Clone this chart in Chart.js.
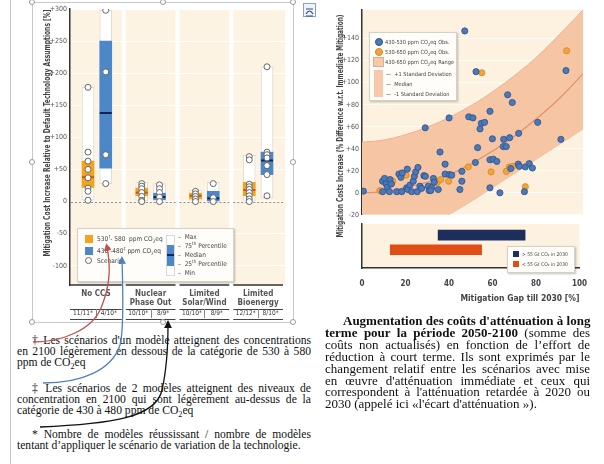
<!DOCTYPE html>
<html>
<head>
<meta charset="utf-8">
<script src="https://cdn.jsdelivr.net/npm/chart.js@4.4.1/dist/chart.umd.min.js"></script>
<style>
  html, body { margin: 0; padding: 0; background: #fff; }
  #page { position: relative; width: 604px; height: 464px; overflow: hidden; font-family: "Liberation Serif", "Times New Roman", serif; color: #111; }
  .abs { position: absolute; }
  .sans { font-family: "DejaVu Sans Condensed", "Liberation Sans Narrow", "Liberation Sans", sans-serif; color: #444; }
  .legend { background: #fffdf9; border: 1px solid #d6d0c6; box-shadow: 1px 1px 2px rgba(0,0,0,0.25); }
  .legend .t { position: absolute; white-space: nowrap; line-height: 8px; }
  .legend sub, .legend sup { font-size: 70%; line-height: 0; }
  .handle { position: absolute; width: 4px; height: 4px; border: 1px solid #9a9a9a; border-radius: 50%; background: #fff; }
  .col .ln { text-align: justify; text-align-last: justify; white-space: nowrap; }
  .col .last { text-align: left; text-align-last: left; white-space: nowrap; }
  .col sub { font-size: 70%; line-height: 0; }
</style>
</head>
<body>
<div id="page">
  <!-- page margin + frame of the left picture -->
  <div class="abs" style="left:10px;top:0;width:1px;height:464px;background:#c4c4c4"></div>
  <div class="abs" style="left:32px;top:2px;width:260px;height:319px;border:1px solid #c8c8c8"></div>

  <div class="abs" style="left:32px;top:0;width:261px;height:322px"><canvas id="leftChart" width="261" height="322"></canvas></div>
  <div class="abs" style="left:328px;top:0;width:262px;height:222px"><canvas id="scatterChart" width="262" height="222"></canvas></div>
  <div class="abs" style="left:328px;top:222px;width:262px;height:84px"><canvas id="gapChart" width="262" height="84"></canvas></div>

  <span class="handle" style="left:29px;top:-1px"></span>
  <span class="handle" style="left:160px;top:-1px"></span>
  <span class="handle" style="left:290px;top:-1px"></span>
  <span class="handle" style="left:29px;top:159px"></span>
  <span class="handle" style="left:290px;top:159px"></span>
  <span class="handle" style="left:29px;top:319px"></span>
  <span class="handle" style="left:160px;top:319px"></span>
  <span class="handle" style="left:290px;top:319px"></span>

  <!-- layout icon -->
  <div class="abs" style="left:303px;top:3px;width:11px;height:12px;border:1px solid #8ea3bb;background:#eef3f9">
    <svg width="11" height="12"><path d="M2 8 Q5.5 2 9 8" fill="none" stroke="#34557d" stroke-width="1.2"/><line x1="2" y1="10" x2="9" y2="10" stroke="#34557d"/><line x1="2" y1="3" x2="9" y2="3" stroke="#34557d"/></svg>
  </div>

  <!-- rotated axis titles -->
  <svg class="abs" style="left:0;top:0" width="604" height="320">
    <text transform="translate(50,133) rotate(-90)" text-anchor="middle" textLength="247" lengthAdjust="spacingAndGlyphs"
      font-family="DejaVu Sans Condensed, Liberation Sans Narrow, sans-serif" font-weight="bold" font-size="8" fill="#444">Mitigation Cost Increase Relative to Default Technology Assumptions [%]</text>
    <text transform="translate(343,126) rotate(-90)" text-anchor="middle" textLength="223" lengthAdjust="spacingAndGlyphs"
      font-family="DejaVu Sans Condensed, Liberation Sans Narrow, sans-serif" font-weight="bold" font-size="8" fill="#444">Mitigation Costs Increase (% Difference w.r.t. Immediate Mitigation)</text>
  </svg>

  <!-- left legend -->
  <div class="abs legend sans" style="left:77px;top:228px;width:155px;height:52px;font-size:6.5px">
    <div class="abs" style="left:7px;top:6px;width:8px;height:8px;background:#f5a31c"></div>
    <div class="t" style="left:19px;top:6px">530<sup>†</sup>- 580 &nbsp;ppm CO<sub>2</sub>eq</div>
    <div class="abs" style="left:7px;top:18px;width:8px;height:8px;background:#4c87c9"></div>
    <div class="t" style="left:19px;top:18px">430<sup>‡</sup>-480<sup>‡</sup> ppm CO<sub>2</sub>eq</div>
    <div class="abs" style="left:7px;top:28px;width:5px;height:5px;border:1px solid #666;border-radius:50%;background:#fff"></div>
    <div class="t" style="left:19px;top:28px">Scenario</div>
    <div class="abs" style="left:88px;top:6px;width:7px;height:39px;border:1px solid #d8d8d8;background:#fff"></div>
    <div class="abs" style="left:89px;top:16px;width:7px;height:21px;background:#4c87c9"></div>
    <div class="abs" style="left:89px;top:25px;width:7px;height:2px;background:#0f2452"></div>
    <div class="t" style="left:100px;top:4px">–&nbsp; Max</div>
    <div class="t" style="left:100px;top:13px">–&nbsp; 75<sup>th</sup> Percentile</div>
    <div class="t" style="left:100px;top:22px">–&nbsp; Median</div>
    <div class="t" style="left:100px;top:31px">–&nbsp; 25<sup>th</sup> Percentile</div>
    <div class="t" style="left:100px;top:40px">–&nbsp; Min</div>
  </div>

  <!-- right legend -->
  <div class="abs legend sans" style="left:369px;top:32px;width:86px;height:67px;font-size:5.6px">
    <div class="abs" style="left:5px;top:5px;width:6px;height:6px;border-radius:50%;background:#4a78b9;border:0.5px solid #2d5288"></div>
    <div class="t" style="left:15px;top:5px">430-530 ppm CO<sub>2</sub>eq Obs.</div>
    <div class="abs" style="left:5px;top:15px;width:6px;height:6px;border-radius:50%;background:#f2a33a;border:0.5px solid #d4861f"></div>
    <div class="t" style="left:15px;top:15px">530-650 ppm CO<sub>2</sub>eq Obs.</div>
    <div class="abs" style="left:3px;top:24px;width:9px;height:8px;background:#f7c9aa;border:1px solid #eaa888"></div>
    <div class="t" style="left:15px;top:25px">430-650 ppm CO<sub>2</sub>eq Range</div>
    <div class="abs" style="left:4px;top:37px;width:9px;height:27px;background:#f7c9aa"></div>
    <div class="t" style="left:16px;top:37px">—&nbsp; +1 Standard Deviation</div>
    <div class="t" style="left:16px;top:47px">—&nbsp; Median</div>
    <div class="t" style="left:16px;top:57px">—&nbsp; -1 Standard Deviation</div>
  </div>

  <!-- gap legend -->
  <div class="abs legend sans" style="left:507px;top:246px;width:66px;height:25px;font-size:5px">
    <div class="abs" style="left:5px;top:4px;width:6px;height:6px;background:#1d2d5c"></div>
    <div class="t" id="gapLab0" style="left:14px;top:3px"></div>
    <div class="abs" style="left:5px;top:14px;width:6px;height:6px;background:#e04e16"></div>
    <div class="t" id="gapLab1" style="left:14px;top:13px"></div>
  </div>

  <!-- notes, left column -->
  <div class="abs col" style="left:17px;top:335px;width:294px;font-size:11.6px;line-height:11px">
    <div class="ln" style="padding-left:15px">† Les scénarios d'un modèle atteignent des concentrations</div>
    <div class="ln">en 2100 légèrement en dessous de la catégorie de 530 à 580</div>
    <div class="last">ppm de CO<sub>2</sub>eq</div>
    <div style="height:15px"></div>
    <div class="ln" style="padding-left:15px">‡ Les scénarios de 2 modèles atteignent des niveaux de</div>
    <div class="ln">concentration en 2100 qui sont légèrement au-dessus de la</div>
    <div class="last">catégorie de 430 à 480 ppm de CO<sub>2</sub>eq</div>
    <div style="height:13px"></div>
    <div class="ln" style="padding-left:15px">* Nombre de modèles réussissant / nombre de modèles</div>
    <div class="last">tentant d’appliquer le scénario de variation de la technologie.</div>
  </div>

  <!-- caption, right column -->
  <div class="abs col" style="left:325px;top:315px;width:265px;font-size:13px;line-height:11.9px">
    <div class="ln" style="padding-left:18px"><b>Augmentation des coûts d'atténuation à long</b></div>
    <div class="ln"><b>terme pour la période 2050-2100</b> (somme des</div>
    <div class="ln">coûts non actualisés) en fonction de l’effort de</div>
    <div class="ln">réduction à court terme. Ils sont exprimés par le</div>
    <div class="ln">changement relatif entre les scénarios avec mise</div>
    <div class="ln">en œuvre d'atténuation immédiate et ceux qui</div>
    <div class="ln">correspondent à l'atténuation retardée à 2020 ou</div>
    <div class="last">2030 (appelé ici «l'écart d'atténuation »).</div>
  </div>

  <!-- hand-drawn pointers -->
  <svg class="abs" style="left:0;top:0;pointer-events:none" width="604" height="464">
    <defs>
      <marker id="ar" markerWidth="6" markerHeight="6" refX="3" refY="3" orient="auto"><path d="M0,0 L6,3 L0,6 z" fill="#c0504d"/></marker>
      <marker id="ab" markerWidth="6" markerHeight="6" refX="3" refY="3" orient="auto"><path d="M0,0 L6,3 L0,6 z" fill="#4f81bd"/></marker>
      <marker id="ak" markerWidth="6" markerHeight="6" refX="3" refY="3" orient="auto"><path d="M0,0 L6,3 L0,6 z" fill="#111"/></marker>
    </defs>
    <path d="M33 342 C 62 342, 92 330, 101 308 S 111 268, 107 247" fill="none" stroke="#c0504d" stroke-width="1.3" marker-end="url(#ar)"/>
    <path d="M43 383 C 82 383, 112 370, 120 345 C 124 330, 123 290, 122 260" fill="none" stroke="#4f81bd" stroke-width="1.3" marker-end="url(#ab)"/>
    <path d="M40 427 C 110 424, 156 418, 162 390 C 167 368, 168 342, 168 324" fill="none" stroke="#111" stroke-width="1.3" marker-end="url(#ak)"/>
  </svg>
</div>

<script>
// ---- left panel: cost increase by technology variation ----
const GROUP_LINES = [['No CCS'], ['Nuclear', 'Phase Out'], ['Limited', 'Solar/Wind'], ['Limited', 'Bioenergy']];
const MODELS_HIGH = ['11/11*', '10/10*', '10/10*', '12/12*'];   // 530-580 ppm
const MODELS_LOW = ['4/10*', '8/9*', '8/9*', '8/10*'];          // 430-480 ppm

const HIGH_MIN = [2, 0, 0, 0];
const HIGH_Q1 = [22, 9, 4, 9];
const HIGH_MED = [38, 14, 9, 18];
const HIGH_Q3 = [63, 21, 13, 30];
const HIGH_MAX = [178, 30, 18, 72];
const HIGH_SCEN = [
  [178, 77, 63, 50, 37, 21, 16, 2],
  [28, 24, 20, 14, 8, 2, 0],
  [16, 12, 8, 4, 0],
  [70, 65, 27, 23, 19, 14, 9, 4, 0]
];

const LOW_MIN = [28, 0, 0, 6];
const LOW_Q1 = [52, 3, 1, 42];
const LOW_MED = [138, 7, 5, 64];
const LOW_Q3 = [250, 13, 16, 77];
const LOW_MAX = [298, 28, 30, 210];
const LOW_SCEN = [
  [298, 202, 73, 28],
  [26, 20, 14, 7, 0],
  [28, 6, 0],
  [210, 77, 73, 68, 56, 42, 9]
];

// ---- right panel: cost increase vs mitigation gap ----
const BLUE_GAP = [46.5, 51.6, 92.3, 65.9, 68, 57.9, 28.6, 39.4, 48.3, 50.2, 54, 55.5, 53.4, 79.5, 70.9, 59, 64.1, 66.8, 90, 63.9, 65.3, 52.3, 35.3,
  0.6, 9.3, 10.2, 10.9, 11.5, 9.3, 12.4, 12.7, 13.3, 16.7, 17.6, 18.2, 15.7, 18, 20.2, 20.7, 20.5, 21.7, 22.5, 23.2, 23.7, 24.3, 25.3, 25, 26.2, 27,
  28, 28.7, 30, 30.4, 31.5, 31.1, 32.3, 32.7, 34.5, 37.6, 37.6, 39.5, 40.6, 44.3, 45.2, 45.2, 51.3, 57.9, 59.4, 61, 57.9, 62.4, 70.7, 71.2, 73.9,
  75.7, 77.1, 73.5, 67.3];
const BLUE_COST = [147, 110, 111, 89, 82, 74, 59, 68, 69, 68, 63, 64, 58, 64, 54, 49, 48.5, 50, 48.5, 42, 42, 41, 37,
  1.5, 10.5, 13, 8, 5, 1, 1, 12, 8, 17, 14, 18, 1, 1, 4.5, 3, 21.5, 7, 1, 10.5, 15, 19, 23, 1, 6, 4,
  15.5, 15, 6, 2, 4.5, 2, 13, 9.5, 3, 26, 17, 16.5, 16, 3, 19.5, 10.5, 27.5, 30, 30.5, 28.5, 4.5, 0, 26, 24, 23.5,
  26.5, 22.5, 1, 22];
const ORANGE_GAP = [54.2, 92.6, 8.1, 13.9, 19.9, 32.6, 34.1, 35.6, 39.2, 48.1, 58.4, 65.3, 66.7, 68.2, 73.9];
const ORANGE_COST = [109, 129, 2, 10.5, 16, 9.5, 9.5, 12, 10.5, 23.5, 19, 19.5, 23.5, 24, 5.5];

const BAND_GAP = [0, 10, 20, 30, 40, 50, 60, 70, 80, 90, 100];
const BAND_UPPER = [46, 48, 53, 60, 69, 80, 93, 108, 125, 145, 166];
const BAND_MEDIAN = [0, 1, 5, 10, 17, 27, 39, 53, 69, 87, 108];
const BAND_LOWER = [-65, -54, -42, -30, -19, -7, 6, 19, 32, 45, 58];

// ---- emission ranges by mitigation gap ----
const GAP_LABELS = ['> 55 Gt CO₂ in 2030', '< 55 Gt CO₂ in 2030'];
const GAP_RANGES = [[35, 75], [13, 55]];

const CHART_FONT = '"DejaVu Sans Condensed", "Liberation Sans Narrow", sans-serif';
Chart.defaults.font.family = CHART_FONT;
Chart.defaults.color = '#555';
Chart.defaults.animation = false;
Chart.defaults.plugins.legend.display = false;
Chart.defaults.plugins.tooltip.enabled = false;

const cream = {
  id: 'cream',
  beforeDraw(chart, args, opts) {
    const a = chart.chartArea, ctx = chart.ctx;
    ctx.save();
    ctx.fillStyle = opts.color || '#fcf3e3';
    ctx.fillRect(a.left, a.top, a.right - a.left, a.bottom - a.top);
    ctx.restore();
  }
};

const xPos = (g, s) => g + 0.5 + (s === 0 ? -0.165 : 0.165);
const boxes = (lo, hi, s) => lo.map((v, g) => ({ x: xPos(g, s), y: [v, hi[g]] }));
const marks = (vals, s) => vals.map((v, g) => ({ x: xPos(g, s), y: v }));
const scen = (lists, s) => lists.flatMap((vals, g) => vals.map(v => ({ x: xPos(g, s), y: v })));

// separators, dashed zero line, group labels and model counts
const groupFrame = {
  id: 'groupFrame',
  beforeDatasetsDraw(chart) {
    const { ctx, chartArea: a, scales: { x, y } } = chart;
    ctx.save();
    ctx.fillStyle = '#ffffff';
    for (let g = 1; g < 4; g++) {
      const px = x.getPixelForValue(g);
      ctx.fillRect(px - 2, a.top, 4, a.bottom - a.top);
    }
    const y0 = Math.round(y.getPixelForValue(0)) + 0.5;
    ctx.strokeStyle = '#8a8a8a';
    ctx.lineWidth = 1;
    ctx.setLineDash([2, 2]);
    for (let g = 0; g < 4; g++) {
      const l = g === 0 ? a.left + 1 : x.getPixelForValue(g) + 2;
      const r = x.getPixelForValue(g + 1) - 2;
      ctx.beginPath(); ctx.moveTo(l, y0); ctx.lineTo(r, y0); ctx.stroke();
    }
    ctx.restore();
  },
  afterDraw(chart) {
    const { ctx, chartArea: a, scales: { x } } = chart;
    ctx.save();
    ctx.textAlign = 'center';
    ctx.textBaseline = 'middle';
    GROUP_LINES.forEach((lines, g) => {
      const l = g === 0 ? a.left : x.getPixelForValue(g) + 2;
      const r = x.getPixelForValue(g + 1) - 2;
      const c = (l + r) / 2;
      ctx.strokeStyle = '#333';
      ctx.lineWidth = 1.5;
      ctx.beginPath(); ctx.moveTo(l, a.bottom); ctx.lineTo(r, a.bottom); ctx.stroke();

      ctx.font = 'bold 8px ' + CHART_FONT;
      ctx.fillStyle = '#555';
      lines.forEach((t, k) => ctx.fillText(t, c, a.bottom + 8.5 + k * 9));

      ctx.lineWidth = 1;
      ctx.strokeStyle = '#444';
      [a.bottom + 23.5, a.bottom + 33.5].forEach(yy => {
        ctx.beginPath(); ctx.moveTo(l, Math.round(yy) + 0.5); ctx.lineTo(r, Math.round(yy) + 0.5); ctx.stroke();
      });
      ctx.strokeStyle = '#888';
      ctx.beginPath(); ctx.moveTo(Math.round(c) + 0.5, a.bottom + 24); ctx.lineTo(Math.round(c) + 0.5, a.bottom + 33); ctx.stroke();
      ctx.font = '6.5px ' + CHART_FONT;
      ctx.fillStyle = '#333';
      ctx.fillText(MODELS_HIGH[g], (l + c) / 2, a.bottom + 28.5);
      ctx.fillText(MODELS_LOW[g], (c + r) / 2, a.bottom + 28.5);
    });
    ctx.restore();
  }
};

new Chart(document.getElementById('leftChart'), {
  type: 'bar',
  data: {
    datasets: [
      { data: boxes(HIGH_MIN, HIGH_MAX, 0), backgroundColor: '#ffffff', borderColor: '#e2dccf', borderWidth: 1, borderSkipped: false, barThickness: 12, grouped: false, order: 5 },
      { data: boxes(LOW_MIN, LOW_MAX, 1), backgroundColor: '#ffffff', borderColor: '#e2dccf', borderWidth: 1, borderSkipped: false, barThickness: 12, grouped: false, order: 5 },
      { data: boxes(HIGH_Q1, HIGH_Q3, 0), backgroundColor: '#f5a31c', barThickness: 12, grouped: false, order: 4 },
      { data: boxes(LOW_Q1, LOW_Q3, 1), backgroundColor: '#4c87c9', barThickness: 12, grouped: false, order: 4 },
      { type: 'scatter', data: marks(HIGH_MED, 0), pointStyle: 'line', pointRadius: 6, borderColor: '#c25a12', borderWidth: 2, order: 3 },
      { type: 'scatter', data: marks(LOW_MED, 1), pointStyle: 'line', pointRadius: 6, borderColor: '#0f2452', borderWidth: 2, order: 3 },
      { type: 'scatter', data: scen(HIGH_SCEN, 0), pointRadius: 3, backgroundColor: '#ffffff', borderColor: '#666', borderWidth: 1, order: 1 },
      { type: 'scatter', data: scen(LOW_SCEN, 1), pointRadius: 3, backgroundColor: '#ffffff', borderColor: '#666', borderWidth: 1, order: 1 }
    ]
  },
  options: {
    responsive: false,
    layout: { padding: { top: 9, right: 3, bottom: 37, left: 0 } },
    scales: {
      x: { type: 'linear', min: 0, max: 4, offset: false, display: false },
      y: {
        min: -130, max: 300,
        afterFit: s => { s.width = 38; },
        ticks: { stepSize: 50, padding: 3, font: { size: 7 }, color: '#555',
          callback: v => (v % 50 !== 0 ? null : v > 0 ? '+' + v : String(v)) },
        grid: { color: 'rgba(255,255,255,0.95)', drawTicks: false },
        border: { color: '#333', width: 1.5 }
      }
    },
    plugins: { cream: { color: '#fcf3e3' } }
  },
  plugins: [cream, groupFrame]
});

const pts = (xs, ys) => xs.map((v, i) => ({ x: v, y: ys[i] }));

new Chart(document.getElementById('scatterChart'), {
  type: 'scatter',
  data: {
    datasets: [
      { label: '430-530 ppm CO2eq Obs.', data: pts(BLUE_GAP, BLUE_COST), pointRadius: 3.1, backgroundColor: '#4a78b9', borderColor: '#2d5288', borderWidth: 0.8, order: 1 },
      { label: '530-650 ppm CO2eq Obs.', data: pts(ORANGE_GAP, ORANGE_COST), pointRadius: 3.1, backgroundColor: '#f2a33a', borderColor: '#d4861f', borderWidth: 0.8, order: 1 },
      { type: 'line', label: '+1 Standard Deviation', data: pts(BAND_GAP, BAND_UPPER), borderColor: '#eeb092', borderWidth: 1, pointRadius: 0, tension: 0.4, fill: '+2', backgroundColor: '#f6c5a4', order: 3 },
      { type: 'line', label: 'Median', data: pts(BAND_GAP, BAND_MEDIAN), borderColor: '#e2906b', borderWidth: 1.2, pointRadius: 0, tension: 0.4, fill: false, order: 2 },
      { type: 'line', label: '-1 Standard Deviation', data: pts(BAND_GAP, BAND_LOWER), borderColor: '#eeb092', borderWidth: 1, pointRadius: 0, tension: 0.4, fill: false, order: 3 }
    ]
  },
  options: {
    responsive: false,
    layout: { padding: { top: 10, right: 7, bottom: 5, left: 0 } },
    scales: {
      x: { type: 'linear', min: 0, max: 100, display: false },
      y: {
        min: -20, max: 166,
        afterFit: s => { s.width = 34; },
        ticks: { stepSize: 20, padding: 3, font: { size: 7 }, color: '#555',
          callback: v => (v % 20 !== 0 ? null : v > 0 ? '+' + v : String(v)) },
        grid: { color: 'rgba(255,255,255,0.7)', drawTicks: false },
        border: { color: '#333', width: 1.5 }
      }
    },
    plugins: { cream: { color: '#fdf2e0' } }
  },
  plugins: [cream]
});

document.getElementById('gapLab0').textContent = GAP_LABELS[0];
document.getElementById('gapLab1').textContent = GAP_LABELS[1];

new Chart(document.getElementById('gapChart'), {
  type: 'bar',
  data: {
    datasets: GAP_RANGES.map((r, i) => ({
      label: GAP_LABELS[i],
      data: [{ x: r, y: 0.75 + i }],
      backgroundColor: i === 0 ? '#1d2d5c' : '#e04e16',
      barThickness: 10,
      grouped: false
    }))
  },
  options: {
    responsive: false,
    indexAxis: 'y',
    layout: { padding: { top: 2, right: 7, bottom: 0, left: 0 } },
    scales: {
      x: {
        type: 'linear', min: 0, max: 100,
        ticks: { stepSize: 20, padding: 3, font: { size: 8, weight: 'bold' }, color: '#444' },
        grid: { display: false },
        border: { color: '#333', width: 1.5 },
        title: { display: true, text: 'Mitigation Gap till 2030 [%]', align: 'end', color: '#444',
          font: { size: 8.5, weight: 'bold' }, padding: { top: 2, bottom: 2 } }
      },
      y: {
        type: 'linear', min: 0, max: 3, reverse: true, offset: false,
        afterFit: s => { s.width = 34; },
        ticks: { display: false },
        grid: { display: false },
        border: { color: '#333', width: 1.5 }
      }
    },
    plugins: { cream: { color: '#fdf2e0' } }
  },
  plugins: [cream]
});
</script>
</body>
</html>
